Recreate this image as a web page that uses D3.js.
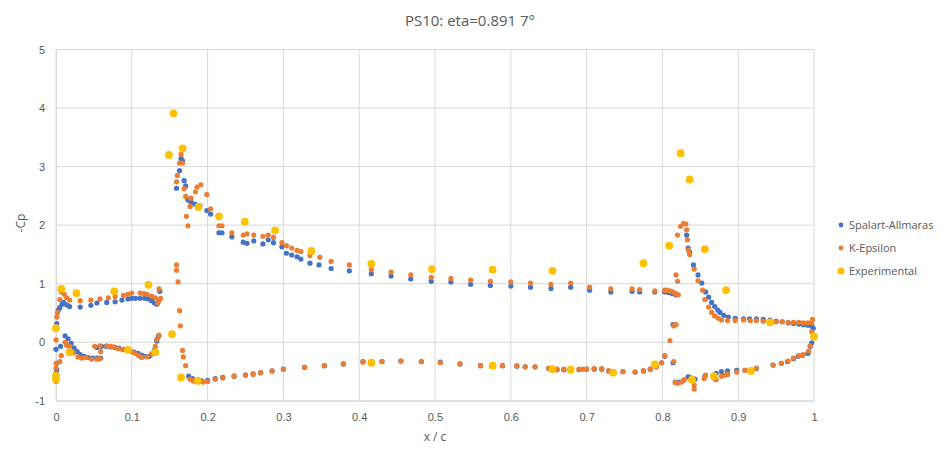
<!DOCTYPE html>
<html><head><meta charset="utf-8">
<script src="https://cdn.jsdelivr.net/npm/d3@7"></script>
<style>body{margin:0;background:#fff;} svg{display:block;font-family:"Open Sans","Liberation Sans",sans-serif;}</style>
</head><body>
<svg id="chart" width="940" height="460"></svg>
<script>
const chartTitle = "PS10: eta=0.891 7°";
const seriesNames = ["Spalart-Allmaras", "K-Epsilon", "Experimental"];
const seriesColors = ["#4472C4", "#ED7D31", "#FFC000"];
const xTicks = [0,0.1,0.2,0.3,0.4,0.5,0.6,0.7,0.8,0.9,1];
const yTicks = [-1,0,1,2,3,4,5];

const saPoints = [
[0.0,-0.59],[0.0,-0.53],[0.001,-0.47],[0.001,-0.36],[0.0,-0.12],[0.006,-0.07],[0.012,0.11],[0.016,0.06],[0.02,-0.02],[0.024,-0.1],[0.028,-0.16],[0.032,-0.21],[0.037,-0.24],[0.042,-0.26],[0.048,-0.27],[0.054,-0.27],[0.059,-0.27],[0.054,-0.09],[0.06,-0.07],[0.066,-0.07],[0.072,-0.08],[0.078,-0.09],[0.083,-0.1],[0.09,-0.12],[0.097,-0.14],[0.103,-0.17],[0.108,-0.19],[0.113,-0.22],[0.118,-0.24],[0.123,-0.24],[0.127,-0.2],[0.13,-0.13],[0.133,0.02],[0.135,0.1],
[0.001,0.32],[0.003,0.55],[0.005,0.59],[0.008,0.65],[0.01,0.68],[0.014,0.64],[0.018,0.61],[0.032,0.6],[0.046,0.63],[0.054,0.67],[0.067,0.68],[0.078,0.69],[0.087,0.72],[0.095,0.74],[0.1,0.75],[0.105,0.75],[0.111,0.75],[0.117,0.75],[0.122,0.74],[0.126,0.71],[0.13,0.67],[0.133,0.65],[0.137,0.87],
[0.159,2.63],[0.163,2.93],[0.165,3.14],[0.167,3.1],[0.169,2.76],[0.171,2.67],[0.174,2.43],[0.178,2.4],[0.183,2.36],[0.19,2.33],[0.199,2.25],[0.204,2.19],[0.215,1.87],[0.219,1.87],[0.232,1.8],[0.247,1.71],[0.252,1.69],[0.261,1.73],[0.273,1.68],[0.28,1.75],[0.287,1.7],[0.298,1.63],[0.304,1.52],[0.311,1.49],[0.318,1.46],[0.323,1.42],[0.335,1.35],[0.347,1.32],[0.363,1.26],[0.387,1.22],[0.416,1.17],[0.442,1.13],[0.468,1.08],[0.495,1.04],[0.521,1.03],[0.547,0.99],[0.573,0.97],[0.6,0.96],[0.626,0.94],[0.653,0.92],[0.679,0.94],[0.704,0.89],[0.732,0.86],[0.76,0.87],[0.77,0.86],[0.79,0.86],[0.803,0.86],[0.808,0.85],[0.813,0.83],[0.818,0.81],
[0.175,-0.58],[0.18,-0.62],[0.186,-0.65],[0.192,-0.66],[0.2,-0.65],[0.21,-0.62],[0.22,-0.6],[0.235,-0.58],[0.25,-0.56],[0.26,-0.54],[0.27,-0.52],[0.285,-0.49],[0.3,-0.46],[0.328,-0.43],[0.354,-0.4],[0.379,-0.37],[0.405,-0.33],[0.43,-0.33],[0.455,-0.32],[0.482,-0.33],[0.507,-0.34],[0.533,-0.37],[0.56,-0.4],[0.589,-0.4],[0.608,-0.41],[0.619,-0.42],[0.632,-0.42],[0.65,-0.45],[0.661,-0.47],[0.67,-0.47],[0.68,-0.47],[0.69,-0.47],[0.7,-0.46],[0.71,-0.46],[0.72,-0.46],[0.729,-0.49],[0.748,-0.5],[0.764,-0.51],[0.775,-0.49],[0.784,-0.46],[0.792,-0.42],[0.799,-0.35],[0.803,-0.24],
[0.814,-0.35],[0.817,-0.68],[0.822,-0.68],[0.828,-0.65],[0.834,-0.59],[0.836,-0.6],[0.841,-0.63],[0.843,-0.63],[0.856,-0.58],[0.871,-0.53],[0.878,-0.5],[0.886,-0.49],[0.898,-0.48],[0.909,-0.48],[0.924,-0.45],[0.946,-0.39],[0.957,-0.36],[0.965,-0.33],[0.973,-0.28],[0.979,-0.24],[0.985,-0.22],[0.992,-0.19],[0.995,-0.07],[0.997,-0.01],
[0.814,0.3],[0.832,1.83],[0.834,1.61],[0.836,1.54],[0.841,1.32],[0.847,1.15],[0.852,1.01],[0.857,0.86],[0.861,0.77],[0.865,0.68],[0.869,0.61],[0.873,0.55],[0.876,0.51],[0.881,0.46],[0.887,0.43],[0.896,0.41],[0.907,0.4],[0.915,0.4],[0.924,0.4],[0.933,0.39],[0.942,0.38],[0.95,0.36],[0.958,0.35],[0.966,0.33],[0.973,0.32],[0.98,0.31],[0.986,0.3],[0.992,0.29],[0.997,0.28],[0.999,0.24]
];

const kePoints = [
[0.0,0.04],[0.0,-0.36],[0.0,-0.44],[0.0,-0.67],[0.005,-0.33],[0.007,-0.23],[0.0,0.26],[0.001,0.43],[0.002,0.51],[0.005,0.73],[0.007,0.86],[0.011,0.82],[0.014,0.76],[0.018,0.72],[0.032,0.71],[0.046,0.72],[0.058,0.74],[0.069,0.76],[0.078,0.78],[0.089,0.8],[0.095,0.82],[0.1,0.84],[0.111,0.84],[0.116,0.83],[0.12,0.82],[0.126,0.79],[0.131,0.76],[0.134,0.67],[0.136,0.71],[0.138,0.75],[0.136,0.91],
[0.012,0.0],[0.014,-0.05],[0.018,-0.07],[0.023,-0.18],[0.029,-0.25],[0.034,-0.27],[0.04,-0.26],[0.047,-0.29],[0.054,-0.29],[0.058,-0.28],[0.059,-0.16],[0.051,-0.07],[0.058,-0.06],[0.067,-0.06],[0.072,-0.07],[0.076,-0.08],[0.082,-0.11],[0.088,-0.13],[0.094,-0.14],[0.1,-0.16],[0.104,-0.19],[0.109,-0.23],[0.113,-0.26],[0.12,-0.25],[0.126,-0.2],[0.131,-0.07],[0.133,0.05],[0.136,0.12],
[0.159,1.32],[0.159,1.23],[0.161,1.03],[0.163,0.54],[0.164,0.28],[0.167,-0.14],[0.168,-0.25],[0.171,-0.4],
[0.159,2.74],[0.16,2.85],[0.163,3.06],[0.165,3.21],[0.167,3.06],[0.169,2.62],[0.171,2.49],[0.172,2.15],[0.174,1.99],[0.177,2.32],[0.178,2.46],[0.184,2.57],[0.186,2.65],[0.191,2.69],[0.199,2.52],[0.204,2.28],[0.215,1.99],[0.219,1.99],[0.232,1.87],[0.247,1.83],[0.252,1.85],[0.261,1.83],[0.273,1.81],[0.28,1.83],[0.287,1.79],[0.298,1.7],[0.304,1.65],[0.311,1.61],[0.318,1.57],[0.323,1.55],[0.335,1.48],[0.348,1.45],[0.363,1.38],[0.387,1.32],[0.416,1.24],[0.442,1.2],[0.468,1.15],[0.495,1.11],[0.521,1.09],[0.547,1.06],[0.573,1.04],[0.6,1.03],[0.626,1.01],[0.653,0.99],[0.679,1.01],[0.704,0.94],[0.732,0.91],[0.76,0.91],[0.77,0.9],[0.79,0.88],[0.803,0.89],[0.806,0.89],[0.809,0.88],[0.812,0.87],[0.815,0.85],[0.818,0.83],[0.821,0.81],
[0.177,-0.63],[0.181,-0.66],[0.188,-0.67],[0.194,-0.68],[0.2,-0.67],[0.21,-0.63],[0.22,-0.61],[0.235,-0.58],[0.25,-0.56],[0.26,-0.55],[0.27,-0.52],[0.285,-0.49],[0.3,-0.46],[0.328,-0.43],[0.354,-0.4],[0.379,-0.37],[0.405,-0.34],[0.43,-0.33],[0.455,-0.32],[0.482,-0.33],[0.507,-0.35],[0.533,-0.37],[0.56,-0.4],[0.589,-0.4],[0.608,-0.4],[0.619,-0.42],[0.632,-0.42],[0.65,-0.44],[0.661,-0.46],[0.67,-0.46],[0.68,-0.46],[0.69,-0.46],[0.695,-0.46],[0.7,-0.46],[0.71,-0.45],[0.72,-0.45],[0.729,-0.49],[0.748,-0.5],[0.764,-0.51],[0.775,-0.49],[0.784,-0.46],[0.792,-0.42],[0.799,-0.35],[0.803,-0.23],[0.81,0.03],
[0.815,0.28],[0.818,0.3],[0.818,1.15],[0.82,1.04],[0.82,1.83],[0.824,1.98],[0.828,2.03],[0.831,2.02],[0.832,1.92],[0.833,1.75],[0.834,1.58],[0.836,1.5],[0.842,1.25],[0.847,1.05],[0.853,0.89],[0.856,0.73],[0.861,0.6],[0.865,0.51],[0.869,0.45],[0.874,0.41],[0.878,0.38],[0.886,0.37],[0.896,0.37],[0.907,0.38],[0.916,0.37],[0.924,0.37],[0.933,0.36],[0.942,0.36],[0.95,0.35],[0.958,0.35],[0.966,0.34],[0.973,0.34],[0.98,0.34],[0.986,0.33],[0.992,0.33],[0.997,0.33],[0.998,0.39],[0.997,0.18],
[0.815,-0.33],[0.817,-0.69],[0.82,-0.7],[0.825,-0.68],[0.829,-0.64],[0.842,-0.73],[0.842,-0.8],[0.855,-0.62],[0.857,-0.56],[0.869,-0.62],[0.871,-0.64],[0.878,-0.58],[0.883,-0.56],[0.886,-0.55],[0.898,-0.51],[0.909,-0.48],[0.924,-0.44],[0.946,-0.39],[0.957,-0.36],[0.966,-0.32],[0.973,-0.27],[0.98,-0.23],[0.986,-0.21],[0.993,-0.15],[0.995,-0.06]
];

const expPoints = [
[0.0,0.24],[0.0,-0.57],[0.0,-0.63],[0.007,0.91],[0.018,-0.17],[0.027,0.84],[0.077,0.87],[0.095,-0.13],[0.122,0.98],[0.131,-0.17],[0.153,0.14],[0.149,3.2],[0.155,3.91],[0.165,-0.6],[0.167,3.31],[0.187,-0.66],[0.188,2.31],[0.215,2.15],[0.249,2.06],[0.289,1.91],[0.337,1.56],[0.416,1.34],[0.416,-0.35],[0.496,1.25],[0.576,1.24],[0.576,-0.4],[0.655,1.22],[0.655,-0.46],[0.679,-0.47],[0.735,-0.52],[0.775,1.35],[0.79,-0.38],[0.809,1.65],[0.824,3.23],[0.836,2.78],[0.839,-0.64],[0.856,1.59],[0.868,-0.58],[0.884,0.89],[0.917,-0.49],[0.942,0.34],[1.0,0.1]
];

const svg = d3.select("#chart");
const plot = {left:56, right:814, top:49.5, bottom:400.8};
const x = d3.scaleLinear().domain([0,1]).range([plot.left, plot.right]);
const y = d3.scaleLinear().domain([-1,5]).range([plot.bottom, plot.top]);
const txtColor = "#595959", gridColor = "#d9d9d9";

// gridlines
svg.append("g").selectAll("line.h").data(yTicks).join("line")
  .attr("x1", plot.left).attr("x2", plot.right)
  .attr("y1", d=>y(d)).attr("y2", d=>y(d))
  .attr("stroke", gridColor).attr("stroke-width", 1);
svg.append("g").selectAll("line.v").data(xTicks).join("line")
  .attr("y1", plot.top).attr("y2", plot.bottom)
  .attr("x1", d=>x(d)).attr("x2", d=>x(d))
  .attr("stroke", gridColor).attr("stroke-width", 1);

// axes
const xAxis = d3.axisBottom(x).tickValues(xTicks).tickSize(0).tickPadding(12).tickFormat(d=>String(+d.toFixed(1)));
const gx = svg.append("g").attr("transform", `translate(0,${plot.bottom})`).call(xAxis);
gx.select(".domain").attr("stroke", gridColor);
gx.selectAll("text").attr("fill", txtColor).attr("font-size", 11);
const yAxis = d3.axisLeft(y).tickValues(yTicks).tickSize(0).tickPadding(11).tickFormat(d=>String(d));
const gy = svg.append("g").attr("transform", `translate(${plot.left},0)`).call(yAxis);
gy.select(".domain").attr("stroke", gridColor);
gy.selectAll("text").attr("fill", txtColor).attr("font-size", 11);

// series
const allSeries = [saPoints, kePoints, expPoints];
const radii = [2.6, 2.6, 3.9];
allSeries.forEach((pts, i) => {
  svg.append("g").selectAll("circle").data(pts).join("circle")
    .attr("cx", d=>x(d[0])).attr("cy", d=>y(d[1])).attr("r", radii[i])
    .attr("fill", seriesColors[i]);
});

// title
svg.append("text").attr("x", 470).attr("y", 26).attr("text-anchor","middle")
  .attr("font-size", 15).attr("fill", txtColor).text(chartTitle);
// axis titles
svg.append("text").attr("x", 435).attr("y", 441).attr("text-anchor","middle")
  .attr("font-size", 12).attr("fill", txtColor).text("x / c");
svg.append("text").attr("transform", "translate(25,223) rotate(-90)").attr("text-anchor","middle")
  .attr("font-size", 12).attr("fill", txtColor).text("-Cp");

// legend
const lg = svg.append("g");
seriesNames.forEach((n, i) => {
  const ly = 225 + i*23;
  lg.append("circle").attr("cx", 841).attr("cy", ly).attr("r", i===2?3.6:2.4).attr("fill", seriesColors[i]);
  lg.append("text").attr("x", 849).attr("y", ly+4).attr("font-size", 11).attr("fill", txtColor).text(n);
});
</script>
</body></html>
